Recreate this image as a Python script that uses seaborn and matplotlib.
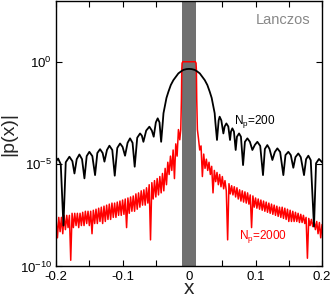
import numpy as np
import pandas as pd
import seaborn as sns
import matplotlib.pyplot as plt
from matplotlib.ticker import FixedLocator, LogFormatterSciNotation, NullLocator

sns.set_style("ticks")
plt.rcParams["font.family"] = ["Liberation Sans", "DejaVu Sans"]
plt.rcParams["mathtext.fontset"] = "custom"
plt.rcParams["mathtext.rm"] = "Liberation Sans"
plt.rcParams["mathtext.it"] = "Liberation Sans:italic"

# black curve, N_p = 200 : x and log10|p(x)|
black_x = [-0.200, -0.197, -0.193, -0.189, -0.1855, -0.180, -0.1755, -0.1724,
           -0.169, -0.165, -0.161, -0.1574, -0.154, -0.150, -0.1455, -0.1414,
           -0.138, -0.1339, -0.130, -0.1273, -0.1235, -0.1198, -0.1155, -0.1118,
           -0.108, -0.1038, -0.100, -0.0963, -0.0925, -0.0888, -0.085, -0.0818,
           -0.078, -0.0737, -0.071, -0.0687, -0.0645, -0.0597, -0.056, -0.0532,
           -0.050, -0.0472, -0.0445, -0.042,
           -0.0395, -0.0385, -0.0361, -0.034, -0.0311, -0.0275, -0.0236, -0.0161,
           -0.012, -0.0086, -0.004, 0.0, 0.004, 0.0086, 0.012, 0.0161, 0.0236,
           0.0275, 0.0311, 0.034, 0.0361, 0.0385, 0.0395,
           0.042, 0.0445, 0.046, 0.0485, 0.0516, 0.0535, 0.0561, 0.059, 0.0616,
           0.063, 0.0651, 0.0675, 0.0701, 0.072, 0.0752, 0.078, 0.0812,
           0.084, 0.0877, 0.0915, 0.0952, 0.099, 0.1027, 0.107, 0.1112,
           0.114, 0.1177, 0.121, 0.1253, 0.129, 0.1328, 0.137, 0.1418,
           0.145, 0.1493, 0.153, 0.1568, 0.160, 0.1643, 0.168, 0.1729,
           0.176, 0.1794, 0.183, 0.1879, 0.191, 0.1954, 0.200]
black_log = [-4.85, -4.72, -5.0, -8.0, -4.9, -4.63, -4.85, -5.45,
             -4.75, -4.52, -4.75, -5.69, -4.6, -4.39, -4.6, -5.53,
             -4.45, -4.26, -4.45, -4.87, -4.3, -4.09, -4.3, -5.56,
             -4.2, -3.98, -4.15, -4.58, -3.95, -3.73, -3.95, -5.12,
             -3.7, -3.49, -3.6, -3.90, -3.35, -3.16, -3.35, -3.65,
             -2.95, -2.75, -2.95, -3.9,
             -2.92, -2.5, -2.10, -1.75, -1.45, -1.12, -0.88, -0.55,
             -0.45, -0.38, -0.34, -0.33, -0.34, -0.38, -0.45, -0.55, -0.88,
             -1.12, -1.45, -1.75, -2.10, -2.5, -2.92,
             -3.81, -2.85, -2.67, -2.85, -3.49, -3.15, -3.0, -3.15, -3.81,
             -3.4, -3.24, -3.4, -4.30, -3.65, -3.49, -3.65, -5.04,
             -3.9, -3.73, -3.9, -4.30, -4.05, -3.90, -4.1, -5.53,
             -4.25, -4.06, -4.25, -4.79, -4.4, -4.22, -4.4, -5.53,
             -4.55, -4.39, -4.55, -5.17, -4.65, -4.47, -4.65, -5.53,
             -4.75, -4.58, -4.8, -8.05, -4.95, -4.74, -4.9]

# red curve, N_p = 2000 : samples every 0.002 on each side, plus the flat top
red_left_log = [-7.7, -8.6, -7.6, -8.3, -7.6, -8.4, -7.5, -8.2, -7.5, -8.1,
                -7.5, -9.7, -7.4, -8.1, -7.4, -8.0, -7.4, -8.1, -7.4, -8.0,
                -7.35, -8.0, -7.3, -7.9, -7.3, -8.0, -7.3, -8.4, -7.25, -7.9,
                -7.2, -7.9, -7.15, -7.8, -7.1, -7.9, -7.05, -7.8, -7.0, -7.7,
                -6.95, -7.7, -6.9, -7.6, -6.9, -7.6, -6.85, -7.5, -6.8, -7.5,
                -6.75, -7.45, -6.7, -8.1, -6.65, -7.4, -6.6, -7.3, -6.55, -7.3,
                -6.45, -7.2, -6.4, -7.1, -6.3, -7.0, -6.25, -7.0, -6.15, -6.9,
                -6.0, -8.7, -5.9, -6.7, -5.8, -6.6, -5.7, -6.5, -5.6, -6.4,
                -5.45, -6.3, -5.2, -6.0, -4.9, -5.5, -4.6, -5.3, -4.3, -5.7,
                -4.0, -4.6, -3.3, -3.8]
red_top_x = [-0.0125, -0.0115, -0.011, -0.0105, -0.0095, 0.0,
             0.0095, 0.0105, 0.011, 0.0115, 0.0125]
red_top_log = [-3.3, -1.8, -0.4, -0.05, 0.02, 0.02,
               0.02, -0.05, -0.4, -1.8, -3.3]
red_right_log = [-3.7, -4.3, -4.1, -5.6, -4.5, -5.2, -4.75, -5.3, -4.9, -5.5,
                 -5.1, -6.4, -5.3, -5.85, -5.4, -6.0, -5.5, -6.1, -5.6, -6.2,
                 -5.8, -6.3, -8.7, -5.95, -6.45, -6.05, -6.5, -6.1, -6.6, -6.15,
                 -6.7, -6.25, -6.8, -6.3, -6.85, -6.35, -6.9, -6.4, -6.95, -6.5,
                 -8.1, -6.55, -7.1, -6.65, -7.15, -6.7, -7.2, -6.75, -7.25, -6.8,
                 -7.3, -6.85, -7.35, -6.9, -7.4, -6.95, -7.45, -7.0, -7.5, -7.05,
                 -7.55, -7.1, -7.6, -7.1, -7.65, -7.15, -7.7, -7.2, -7.8, -7.25,
                 -7.8, -7.3, -7.8, -7.35, -7.8, -7.4, -7.85, -7.45, -7.85, -7.5,
                 -7.9, -7.6, -9.6, -7.65, -8.0, -7.7, -8.05, -7.75, -8.2, -7.8,
                 -8.4, -7.85, -8.6, -7.95]

red_x = np.concatenate([np.linspace(-0.200, -0.014, len(red_left_log)),
                        red_top_x,
                        np.linspace(0.014, 0.200, len(red_right_log))])
red_log = np.concatenate([red_left_log, red_top_log, red_right_log])

black = pd.DataFrame({"x": black_x, "p": 10.0 ** np.array(black_log)})
red = pd.DataFrame({"x": red_x, "p": 10.0 ** red_log})

window = (-0.0105, 0.0105)
xtick_vals = [-0.2, -0.15, -0.1, -0.05, 0.0, 0.05, 0.1, 0.15, 0.2]
xtick_text = ["-0.2", "", "-0.1", "", "0", "", "0.1", "", "0.2"]

fig = plt.figure(figsize=(3.32, 2.97), dpi=100)
ax = fig.add_axes([0.169, 0.103, 0.801, 0.894])

ax.axvspan(window[0], window[1], color="#707070", lw=0, zorder=1)
sns.lineplot(data=black, x="x", y="p", ax=ax, color="black", lw=1.3,
             sort=False, estimator=None, zorder=3)
sns.lineplot(data=red, x="x", y="p", ax=ax, color="red", lw=1.1,
             sort=False, estimator=None, zorder=2)

ax.set_yscale("log")
ax.set_xlim(-0.2, 0.2)
ax.set_ylim(1e-10, 1e3)
ax.yaxis.set_major_locator(FixedLocator([1e-10, 1e-5, 1e0]))
ax.yaxis.set_major_formatter(LogFormatterSciNotation())
ax.yaxis.set_minor_locator(NullLocator())
ax.set_xticks(xtick_vals)
ax.set_xticklabels(xtick_text)
ax.tick_params(direction="in", top=True, right=True, length=4, width=0.8,
               labelsize=9.5, colors="black", pad=3)
for s in ax.spines.values():
    s.set_linewidth(1.0)
    s.set_color("black")

ax.set_xlabel("")
ax.set_ylabel("|p(x)|", fontsize=14, labelpad=2)
fig.text(189 / 332, 1 - 294 / 297, "x", ha="center", va="baseline",
         fontsize=15)

ax.text(0.955, 0.913, "Lanczos", transform=ax.transAxes, ha="right",
        va="baseline", fontsize=10.5, color="#888888")
ax.text(0.0677, 10 ** -3.03, r"N$_\mathrm{p}$=200", ha="left", va="baseline",
        fontsize=8.5, color="black")
ax.text(0.0747, 10 ** -8.67, r"N$_\mathrm{p}$=2000", ha="left", va="baseline",
        fontsize=8.5, color="red")

fig.savefig("out.png", dpi=100)
